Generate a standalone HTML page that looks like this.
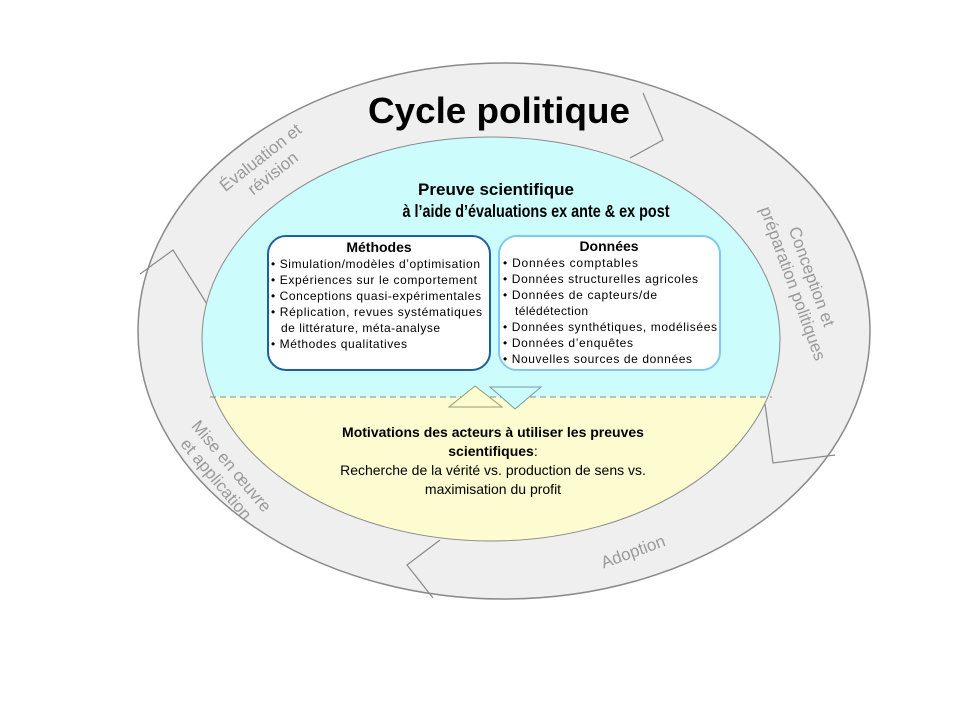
<!DOCTYPE html>
<html><head><meta charset="utf-8"><style>
html,body{margin:0;padding:0;background:#fff;}
svg{display:block;font-family:"Liberation Sans",Arial,sans-serif;}
</style></head><body>
<svg width="960" height="720" viewBox="0 0 960 720" xmlns="http://www.w3.org/2000/svg">
<defs>
<clipPath id="top"><rect x="0" y="0" width="960" height="397"/></clipPath>
<clipPath id="bot"><rect x="0" y="397" width="960" height="400"/></clipPath>
</defs>
<ellipse cx="504" cy="331" rx="366" ry="268" fill="#efefef" stroke="#8a8a8a" stroke-width="1.5"/>
<g fill="none" stroke="#8a8a8a" stroke-width="1.2">
<polyline points="643,93 663,140 630,158"/>
<polyline points="765,404 773,463 835,455"/>
<polyline points="440,540 407,565 433,598"/>
<polyline points="140,274 173,250 207,304"/>
</g>
<ellipse cx="491" cy="339" rx="289" ry="202" fill="#ccfcfc" clip-path="url(#top)"/>
<ellipse cx="491" cy="339" rx="289" ry="202" fill="#fcfcd0" clip-path="url(#bot)"/>
<ellipse cx="491" cy="339" rx="289" ry="202" fill="none" stroke="#8a8a8a" stroke-width="1"/>
<line x1="210" y1="397" x2="772" y2="397" stroke="#8a8a8a" stroke-width="1" stroke-dasharray="6,4"/>
<polygon points="449,407 502,407 475,386" fill="#fcfcd0" stroke="#9a9a70" stroke-width="1"/>
<polygon points="490,387 541,387 515,409" fill="#ccfcfc" stroke="#7a9aa0" stroke-width="1"/>

<text x="499" y="123" font-size="36" font-weight="bold" text-anchor="middle" textLength="262" lengthAdjust="spacingAndGlyphs">Cycle politique</text>
<text x="496" y="195" font-size="17" font-weight="bold" text-anchor="middle">Preuve scientifique</text>
<text x="536" y="217" font-size="17.5" font-weight="bold" text-anchor="middle" textLength="267" lengthAdjust="spacingAndGlyphs">à l’aide d’évaluations ex ante &amp; ex post</text>

<rect x="268" y="236" width="222" height="134" rx="18" fill="#fff" stroke="#1f5fa0" stroke-width="2"/>
<rect x="499" y="236" width="221" height="134" rx="18" fill="#fff" stroke="#80c8f0" stroke-width="2"/>
<text x="379" y="252" font-size="14" font-weight="bold" text-anchor="middle">Méthodes</text>
<g font-size="12" lengthAdjust="spacing">
<text x="271" y="268" textLength="209">• Simulation/modèles d’optimisation</text>
<text x="271" y="284" textLength="206">• Expériences sur le comportement</text>
<text x="271" y="300" textLength="210">• Conceptions quasi-expérimentales</text>
<text x="271" y="316" textLength="211">• Réplication, revues systématiques</text>
<text x="281" y="332" textLength="159">de littérature, méta-analyse</text>
<text x="271" y="348" textLength="136">• Méthodes qualitatives</text>
</g>
<text x="609" y="251" font-size="14" font-weight="bold" text-anchor="middle">Données</text>
<g font-size="12">
<text x="503" y="267" textLength="135">• Données  comptables</text>
<text x="503" y="283" textLength="195">• Données  structurelles agricoles</text>
<text x="503" y="299" textLength="154">• Données  de capteurs/de</text>
<text x="515" y="315" textLength="73">télédétection</text>
<text x="503" y="331" textLength="214">• Données  synthétiques, modélisées</text>
<text x="503" y="347" textLength="130">• Données  d’enquêtes</text>
<text x="503" y="363" textLength="189">• Nouvelles  sources de données</text>
</g>

<text x="493" y="437" font-size="14" font-weight="bold" text-anchor="middle">Motivations des acteurs à utiliser les preuves</text>
<text x="493" y="456" font-size="14" text-anchor="middle"><tspan font-weight="bold">scientifiques</tspan>:</text>
<text x="493" y="475" font-size="14" text-anchor="middle">Recherche de la vérité vs. production de sens vs.</text>
<text x="493" y="494" font-size="14" text-anchor="middle">maximisation du profit</text>

<g fill="#9a9a9a" font-size="17" text-anchor="middle">
<text transform="translate(264,162) rotate(-38)"><tspan x="0" y="0">Évaluation et</tspan><tspan x="0" y="20">révision</tspan></text>
<text transform="translate(797,282) rotate(70)"><tspan x="0" y="-10">Conception et</tspan><tspan x="0" y="10">préparation politiques</tspan></text>
<text transform="translate(221,475) rotate(50)"><tspan x="0" y="-8">Mise en œuvre</tspan><tspan x="0" y="12">et application</tspan></text>
<text transform="translate(635,557) rotate(-20)">Adoption</text>
</g>
</svg>
</body></html>
